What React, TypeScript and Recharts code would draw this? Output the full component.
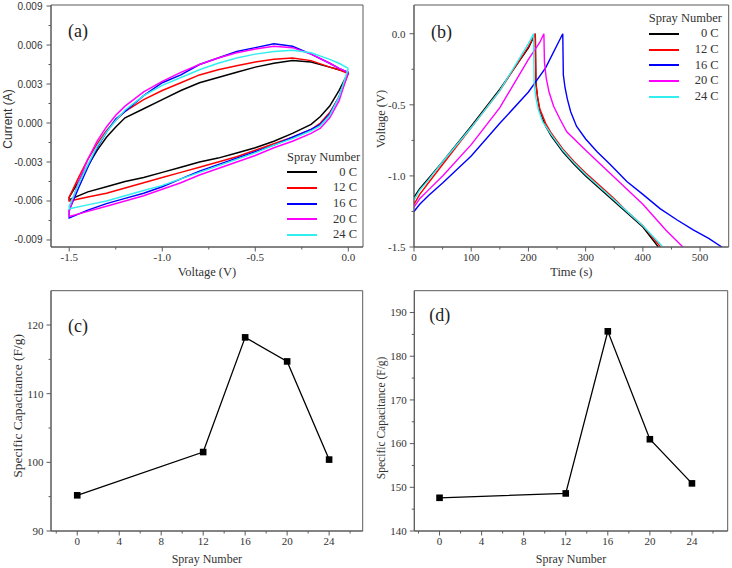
import { LineChart, Line, XAxis, YAxis, Legend, ReferenceArea } from "recharts";

const SERIF = '"Liberation Serif", "Times New Roman", serif';
const SANS = '"Liberation Sans", Arial, sans-serif';
const FRAME = "#5a5a5a";
const INK = "#333333";

const sprayLabels = ["0 C", "12 C", "16 C", "20 C", "24 C"];
const sprayColors = ["#000000", "#ff0000", "#0000ff", "#ff00ff", "#33eeee"];

// --- (a) cyclic voltammetry: sweep 0 -> -1.5 V (upper branch), then back (lower branch)
const cvUpperVoltage = [0, -0.05, -0.1, -0.2, -0.3, -0.4, -0.5, -0.6, -0.7, -0.8, -0.9, -1.0, -1.1, -1.2, -1.25, -1.3, -1.35, -1.4, -1.45, -1.5];
const cvLowerVoltage = [-1.5, -1.4, -1.3, -1.2, -1.1, -1.0, -0.9, -0.8, -0.7, -0.6, -0.5, -0.4, -0.3, -0.2, -0.15, -0.1, -0.05, 0];

const cvUpper0 = [0.0039, 0.0041, 0.0043, 0.0047, 0.0048, 0.0046, 0.0043, 0.0039, 0.0035, 0.0031, 0.0025, 0.0018, 0.0011, 0.0004, -0.0003, -0.0011, -0.0021, -0.0033, -0.0045, -0.0057];
const cvUpper12 = [0.0038, 0.0041, 0.0043, 0.0048, 0.005, 0.0049, 0.0047, 0.0044, 0.0041, 0.0037, 0.0031, 0.0025, 0.0018, 0.0009, 0.0002, -0.0006, -0.0016, -0.0028, -0.0042, -0.0057];
const cvUpper16 = [0.0039, 0.0042, 0.0046, 0.0053, 0.0059, 0.0061, 0.0058, 0.0055, 0.005, 0.0045, 0.0037, 0.0031, 0.0021, 0.0009, 0.0003, -0.0007, -0.0019, -0.0034, -0.005, -0.0067];
const cvUpper20 = [0.0039, 0.0042, 0.0046, 0.0053, 0.0058, 0.0059, 0.0057, 0.0054, 0.005, 0.0045, 0.0039, 0.0032, 0.0024, 0.0013, 0.0006, -0.0003, -0.0014, -0.0028, -0.0045, -0.0068];
const cvUpper24 = [0.0042, 0.0046, 0.0049, 0.0054, 0.0056, 0.0055, 0.0053, 0.005, 0.0046, 0.0041, 0.0035, 0.0029, 0.0021, 0.001, 0.0002, -0.0007, -0.0018, -0.0032, -0.0047, -0.0064];

const cvLower0 = [-0.0059, -0.0053, -0.0049, -0.0045, -0.0042, -0.0038, -0.0034, -0.003, -0.0027, -0.0023, -0.0019, -0.0014, -0.0008, -0.0001, 0.0005, 0.0013, 0.0025, 0.0039];
const cvLower12 = [-0.006, -0.0057, -0.0054, -0.005, -0.0046, -0.0042, -0.0038, -0.0034, -0.003, -0.0026, -0.0021, -0.0016, -0.0011, -0.0005, 0.0, 0.0008, 0.002, 0.0038];
const cvLower16 = [-0.0073, -0.0067, -0.0062, -0.0058, -0.0054, -0.0049, -0.0043, -0.0037, -0.0032, -0.0027, -0.0022, -0.0017, -0.0011, -0.0005, -0.0001, 0.0007, 0.002, 0.0039];
const cvLower20 = [-0.0072, -0.0068, -0.0064, -0.006, -0.0056, -0.0051, -0.0046, -0.004, -0.0035, -0.003, -0.0025, -0.0019, -0.0014, -0.0008, -0.0004, 0.0004, 0.0017, 0.0039];
const cvLower24 = [-0.0066, -0.0063, -0.006, -0.0056, -0.0052, -0.0048, -0.0043, -0.0038, -0.0033, -0.0028, -0.0023, -0.0017, -0.0012, -0.0006, -0.0002, 0.0006, 0.002, 0.0042];

const cvVoltDomain: [number, number] = [-1.598, 0.079];
const cvCurrentDomain: [number, number] = [-0.00954, 0.00908];
const cvVoltTicks = [-1.5, -1.25, -1.0, -0.75, -0.5, -0.25, 0];
const cvCurrentTicks = [-0.009, -0.0075, -0.006, -0.0045, -0.003, -0.0015, 0, 0.0015, 0.003, 0.0045, 0.006, 0.0075, 0.009];

// --- (b) galvanostatic charge / discharge
const gcdTime0 = [0, 10, 25, 50, 100, 150, 200, 212, 213, 216, 220, 230, 240, 260, 280, 300, 325, 350, 375, 400, 427];
const gcdVolt0 = [-1.15, -1.09, -1.02, -0.9, -0.65, -0.39, -0.1, 0, -0.34, -0.45, -0.55, -0.65, -0.72, -0.83, -0.92, -1.0, -1.09, -1.18, -1.27, -1.36, -1.5];
const gcdTime12 = [0, 10, 25, 50, 100, 150, 200, 212, 213, 216, 220, 230, 240, 260, 280, 300, 325, 350, 375, 400, 431];
const gcdVolt12 = [-1.2, -1.13, -1.05, -0.92, -0.66, -0.4, -0.09, 0, -0.35, -0.45, -0.53, -0.63, -0.7, -0.81, -0.9, -0.98, -1.07, -1.16, -1.26, -1.35, -1.5];
const gcdTime16 = [0, 10, 25, 50, 100, 150, 200, 230, 260, 261, 264, 268, 274, 284, 300, 320, 343, 372, 400, 430, 460, 488, 515, 538];
const gcdVolt16 = [-1.25, -1.2, -1.14, -1.05, -0.86, -0.63, -0.41, -0.24, 0, -0.29, -0.38, -0.46, -0.55, -0.65, -0.74, -0.83, -0.92, -1.04, -1.13, -1.23, -1.31, -1.38, -1.44, -1.5];
const gcdTime20 = [0, 10, 25, 50, 100, 150, 200, 220, 227, 228, 231, 236, 244, 255, 267, 300, 350, 400, 440, 470];
const gcdVolt20 = [-1.22, -1.16, -1.1, -1.0, -0.78, -0.52, -0.18, -0.06, 0, -0.2, -0.31, -0.41, -0.51, -0.6, -0.69, -0.82, -1.01, -1.2, -1.38, -1.5];
const gcdTime24 = [0, 10, 25, 50, 100, 150, 200, 209, 210, 213, 217, 225, 240, 260, 280, 300, 325, 350, 375, 400, 435];
const gcdVolt24 = [-1.17, -1.1, -1.03, -0.9, -0.66, -0.4, -0.07, 0, -0.35, -0.45, -0.53, -0.62, -0.71, -0.82, -0.91, -0.99, -1.08, -1.17, -1.26, -1.35, -1.5];

const gcdTimeDomain: [number, number] = [0, 550];
const gcdVoltDomain: [number, number] = [-1.5, 0.202];
const gcdTimeTicks = [0, 50, 100, 150, 200, 250, 300, 350, 400, 450, 500];
const gcdVoltTicks = [-1.5, -1.25, -1.0, -0.75, -0.5, -0.25, 0];

// --- (c), (d) specific capacitance vs spray number
const sprayNumbers = [0, 12, 16, 20, 24];
const capacitanceCV = [95.2, 101.5, 118.2, 114.7, 100.4];
const capacitanceGCD = [147.6, 148.6, 185.7, 161.0, 150.9];

const sprayTicks = [-2, 0, 2, 4, 6, 8, 10, 12, 14, 16, 18, 20, 22, 24, 26];
const capTicksCV = [90, 95, 100, 105, 110, 115, 120];
const capTicksGCD = [140, 145, 150, 155, 160, 165, 170, 175, 180, 185, 190];

const cvLoop = (upper: number[], lower: number[]) => [
  ...cvUpperVoltage.map((v, k) => ({ v, i: upper[k] })),
  ...cvLowerVoltage.map((v, k) => ({ v, i: lower[k] })),
];
const cvSeries = [
  cvLoop(cvUpper0, cvLower0),
  cvLoop(cvUpper12, cvLower12),
  cvLoop(cvUpper16, cvLower16),
  cvLoop(cvUpper20, cvLower20),
  cvLoop(cvUpper24, cvLower24),
];

const zipGcd = (t: number[], u: number[]) => t.map((s, k) => ({ t: s, u: u[k] }));
const gcdSeries = [
  zipGcd(gcdTime0, gcdVolt0),
  zipGcd(gcdTime12, gcdVolt12),
  zipGcd(gcdTime16, gcdVolt16),
  zipGcd(gcdTime20, gcdVolt20),
  zipGcd(gcdTime24, gcdVolt24),
];

const capRows = (vals: number[]) => sprayNumbers.map((n, k) => ({ n, c: vals[k] }));

const isMajor = (v: number, step: number) => Math.abs(v / step - Math.round(v / step)) < 1e-6;

// outward ticks, labels only on the major ones
const bottomTicks = (step: number, fmt: (v: number) => string, font: string, size: number) => (p: any) => {
  const v = p.payload.value;
  const major = isMajor(v, step);
  return (
    <g>
      <line x1={p.x} x2={p.x} y1={p.y} y2={p.y + (major ? 4.5 : 2.5)} stroke={FRAME} />
      {major && (
        <text x={p.x} y={p.y + 6} dy="0.71em" textAnchor="middle" fontFamily={font} fontSize={size} fill={INK}>
          {fmt(v)}
        </text>
      )}
    </g>
  );
};

const leftTicks = (step: number, fmt: (v: number) => string, font: string, size: number, gap: number) => (p: any) => {
  const v = p.payload.value;
  const major = isMajor(v, step);
  return (
    <g>
      <line x1={p.x} x2={p.x - (major ? 4.5 : 2.5)} y1={p.y} y2={p.y} stroke={FRAME} />
      {major && (
        <text x={p.x - 4.5 - gap} y={p.y} dy="0.35em" textAnchor="end" fontFamily={font} fontSize={size} fill={INK}>
          {fmt(v)}
        </text>
      )}
    </g>
  );
};

const xTitle = (text: string, dy: number, size: number) => (p: any) => (
  <text
    x={p.viewBox.x + p.viewBox.width / 2}
    y={p.viewBox.y + dy}
    dy="0.35em"
    textAnchor="middle"
    fontFamily={SERIF}
    fontSize={size}
    fill={INK}
  >
    {text}
  </text>
);

const yTitle = (text: string, x: number, dy: number, font: string, size: number) => (p: any) => {
  const cy = p.viewBox.y + p.viewBox.height / 2 + dy;
  const cx = p.viewBox.x + x;
  return (
    <text
      x={cx}
      y={cy}
      dy="0.35em"
      transform={`rotate(-90 ${cx} ${cy})`}
      textAnchor="middle"
      fontFamily={font}
      fontSize={size}
      fill={INK}
    >
      {text}
    </text>
  );
};

const panelTag = (tag: string, dx: number, dy: number) => (p: any) => (
  <text x={p.viewBox.x + dx} y={p.viewBox.y + dy} fontFamily={SERIF} fontSize={18} fill="#222">
    {tag}
  </text>
);

// closed box round the plot area, carrying the panel tag
const frameBox = (xd: [number, number], yd: [number, number], tag: string, dx: number, dy: number) => (
  <ReferenceArea
    x1={xd[0]}
    x2={xd[1]}
    y1={yd[0]}
    y2={yd[1]}
    fill="none"
    fillOpacity={0}
    stroke={FRAME}
    strokeWidth={1}
    ifOverflow="visible"
    label={panelTag(tag, dx, dy)}
  />
);

const sprayLegend = (titleH: number, rowH: number, width: number) => () => (
  <div style={{ fontFamily: SERIF, fontSize: 12.5, color: INK, whiteSpace: "nowrap", width }}>
    <div style={{ height: titleH, lineHeight: `${titleH}px` }}>Spray Number</div>
    {sprayLabels.map((name, k) => (
      <div key={name} style={{ display: "flex", alignItems: "center", height: rowH }}>
        <div style={{ width: 30, height: 2, background: sprayColors[k] }} />
        <div style={{ flex: 1, textAlign: "right", lineHeight: `${rowH}px` }}>{name}</div>
      </div>
    ))}
  </div>
);

const squareDot = (p: any) => (
  <rect key={`sq-${p.index}`} x={p.cx - 3.3} y={p.cy - 3.3} width={6.6} height={6.6} fill="#000" />
);

function CvPanel() {
  return (
    <LineChart width={366} height={284} margin={{ top: 5, right: 3, bottom: 0, left: 0 }}>
      <XAxis
        dataKey="v"
        type="number"
        domain={cvVoltDomain}
        allowDataOverflow
        ticks={cvVoltTicks}
        interval={0}
        height={37}
        tickSize={0}
        tickMargin={0}
        tickLine={false}
        axisLine={{ stroke: FRAME }}
        tick={bottomTicks(0.5, (v) => v.toFixed(1), SERIF, 11)}
        label={xTitle("Voltage (V)", 25, 12.5)}
      />
      <YAxis
        type="number"
        domain={cvCurrentDomain}
        allowDataOverflow
        ticks={cvCurrentTicks}
        interval={0}
        width={51}
        tickSize={0}
        tickMargin={0}
        tickLine={false}
        axisLine={{ stroke: FRAME }}
        tick={leftTicks(0.003, (v) => v.toFixed(3), SANS, 10, 4)}
        label={yTitle("Current (A)", 8, -7, SANS, 12)}
      />
      {frameBox(cvVoltDomain, cvCurrentDomain, "(a)", 17, 32)}
      {cvSeries.map((rows, k) => (
        <Line
          key={sprayLabels[k]}
          name={sprayLabels[k]}
          data={rows}
          dataKey="i"
          type="linear"
          stroke={sprayColors[k]}
          strokeWidth={1.5}
          dot={false}
          isAnimationActive={false}
        />
      ))}
      <Legend
        layout="vertical"
        align="center"
        verticalAlign="middle"
        content={sprayLegend(16, 15.7, 70)}
        wrapperStyle={{ left: 287, top: 148.5, width: 70 }}
      />
    </LineChart>
  );
}

function GcdPanel() {
  return (
    <LineChart width={366} height={284} margin={{ top: 5, right: 3.3, bottom: 0, left: 0 }}>
      <XAxis
        dataKey="t"
        type="number"
        domain={gcdTimeDomain}
        allowDataOverflow
        ticks={gcdTimeTicks}
        interval={0}
        height={37}
        tickSize={0}
        tickMargin={0}
        tickLine={false}
        axisLine={{ stroke: FRAME }}
        tick={bottomTicks(100, (v) => String(v), SERIF, 11)}
        label={xTitle("Time (s)", 25, 12.5)}
      />
      <YAxis
        type="number"
        domain={gcdVoltDomain}
        allowDataOverflow
        ticks={gcdVoltTicks}
        interval={0}
        width={48}
        tickSize={0}
        tickMargin={0}
        tickLine={false}
        axisLine={{ stroke: FRAME }}
        tick={leftTicks(0.5, (v) => v.toFixed(1), SERIF, 11, 4)}
        label={yTitle("Voltage (V)", 15, -7, SERIF, 12.5)}
      />
      {frameBox(gcdTimeDomain, gcdVoltDomain, "(b)", 17, 33)}
      {gcdSeries.map((rows, k) => (
        <Line
          key={sprayLabels[k]}
          name={sprayLabels[k]}
          data={rows}
          dataKey="u"
          type="linear"
          stroke={sprayColors[k]}
          strokeWidth={1.4}
          dot={false}
          isAnimationActive={false}
        />
      ))}
      <Legend
        layout="vertical"
        align="center"
        verticalAlign="middle"
        content={sprayLegend(15, 15.8, 70)}
        wrapperStyle={{ left: 282.7, top: 11, width: 70 }}
      />
    </LineChart>
  );
}

function CapacitancePanel(props: {
  tag: string;
  values: number[];
  yDomain: [number, number];
  yTicks: number[];
  xDomain: [number, number];
  yWidth: number;
  right: number;
  tagDx: number;
  tagDy: number;
  titleX: number;
  titleSize: number;
  titleDy: number;
}) {
  return (
    <LineChart
      width={366}
      height={284}
      data={capRows(props.values)}
      margin={{ top: 6.7, right: props.right, bottom: 0, left: 0 }}
    >
      <XAxis
        dataKey="n"
        type="number"
        domain={props.xDomain}
        allowDataOverflow
        ticks={sprayTicks}
        interval={0}
        height={37}
        tickSize={0}
        tickMargin={0}
        tickLine={false}
        axisLine={{ stroke: FRAME }}
        tick={bottomTicks(4, (v) => String(v), SERIF, 11)}
        label={xTitle("Spray Number", 28, 12)}
      />
      <YAxis
        type="number"
        domain={props.yDomain}
        allowDataOverflow
        ticks={props.yTicks}
        interval={0}
        width={props.yWidth}
        tickSize={0}
        tickMargin={0}
        tickLine={false}
        axisLine={{ stroke: FRAME }}
        tick={leftTicks(10, (v) => String(v), SERIF, 11, 3)}
        label={yTitle("Specific Capacitance (F/g)", props.titleX, props.titleDy, SERIF, props.titleSize)}
      />
      {frameBox(props.xDomain, props.yDomain, props.tag, props.tagDx, props.tagDy)}
      <Line
        dataKey="c"
        type="linear"
        stroke="#000"
        strokeWidth={1.3}
        dot={squareDot}
        isAnimationActive={false}
      />
    </LineChart>
  );
}

export default function App() {
  return (
    <div style={{ position: "absolute", left: 0, top: 0, width: 732, height: 568, background: "#fff" }}>
      <div style={{ position: "absolute", left: 0, top: 0 }}>
        <CvPanel />
      </div>
      <div style={{ position: "absolute", left: 366, top: 0 }}>
        <GcdPanel />
      </div>
      <div style={{ position: "absolute", left: 0, top: 284 }}>
        <CapacitancePanel
          tag="(c)"
          values={capacitanceCV}
          yDomain={[90, 125]}
          yTicks={capTicksCV}
          xDomain={[-2.5, 27.2]}
          yWidth={51}
          right={3.3}
          tagDx={17}
          tagDy={41.6}
          titleX={17}
          titleSize={13.5}
          titleDy={-5}
        />
      </div>
      <div style={{ position: "absolute", left: 366, top: 284 }}>
        <CapacitancePanel
          tag="(d)"
          values={capacitanceGCD}
          yDomain={[140, 195]}
          yTicks={capTicksGCD}
          xDomain={[-2.4, 27.4]}
          yWidth={48.3}
          right={4.3}
          tagDx={15}
          tagDy={30}
          titleX={15}
          titleSize={11.5}
          titleDy={7}
        />
      </div>
    </div>
  );
}
